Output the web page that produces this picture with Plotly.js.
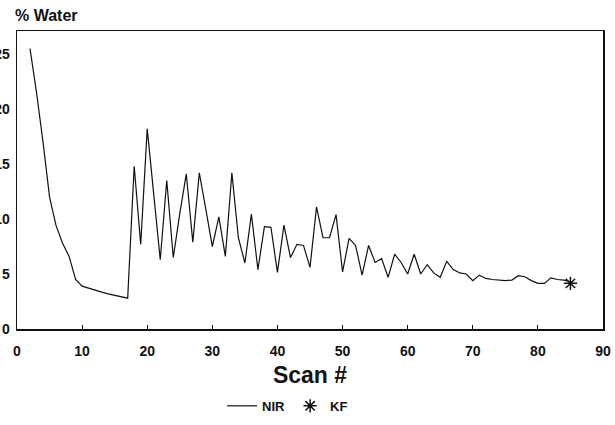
<!DOCTYPE html>
<html>
<head>
<meta charset="utf-8">
<script src="https://cdn.plot.ly/plotly-3.0.1.min.js"></script>
<style>html,body{margin:0;padding:0;background:#fff;}#chart{width:615px;height:425px;}</style>
</head>
<body>
<div id="chart"></div>
<script>
const scans = [2,3,4,5,6,7,8,9,10,11,12,13,14,15,16,17,18,19,20,21,22,23,24,25,26,27,28,29,30,31,32,33,34,35,36,37,38,39,40,41,42,43,44,45,46,47,48,49,50,51,52,53,54,55,56,57,58,59,60,61,62,63,64,65,66,67,68,69,70,71,72,73,74,75,76,77,78,79,80,81,82,83,84,85];
const nirWater = [25.5,21.5,17.0,12.0,9.4,7.8,6.6,4.5,3.9,3.7,3.5,3.35,3.2,3.05,2.95,2.8,14.8,7.7,18.2,12.0,6.3,13.5,6.5,10.5,14.1,7.9,14.2,10.9,7.5,10.2,6.6,14.2,8.3,6.0,10.45,5.4,9.3,9.25,5.15,9.45,6.5,7.7,7.6,5.6,11.1,8.3,8.3,10.4,5.2,8.25,7.6,4.9,7.6,6.05,6.4,4.7,6.8,6.05,5.0,6.8,5.0,5.85,5.1,4.7,6.15,5.4,5.1,5.0,4.4,4.9,4.6,4.5,4.45,4.4,4.45,4.85,4.75,4.4,4.15,4.15,4.65,4.5,4.45,4.3];
const kfScan = [85];
const kfWater = [4.15];
const xTicks = [0,10,20,30,40,50,60,70,80,90];
const yTicks = [0,5,10,15,20,25];

const fnt = "Liberation Sans, Arial, Helvetica, sans-serif";
const data = [
  {x: scans, y: nirWater, type: 'scatter', mode: 'lines', name: 'NIR',
   line: {color: '#111', width: 1.2}},
  {x: kfScan, y: kfWater, type: 'scatter', mode: 'markers', name: 'KF',
   marker: {symbol: 'asterisk-open', size: 11, color: '#111', line: {color: '#111', width: 1.5}}}
];
const layout = {
  width: 615, height: 425,
  margin: {l: 17, r: 12, t: 31, b: 96},
  paper_bgcolor: '#fff', plot_bgcolor: '#fff',
  showlegend: true,
  legend: {orientation: 'h', x: 0.35, xanchor: 'left', yref: 'container', y: 0.045, yanchor: 'middle',
           font: {family: fnt, size: 13, color: '#111', weight: 'bold'}, itemwidth: 30, tracegroupgap: 0},
  xaxis: {range: [0, 90], tickvals: xTicks, ticktext: xTicks.map(String), automargin: false,
          showgrid: false, zeroline: false, showline: true, mirror: true, linecolor: '#111', linewidth: 1.5,
          ticks: 'inside', ticklen: 4, tickcolor: '#111', ticklabelstandoff: 9,
          tickfont: {family: fnt, size: 14, color: '#111', weight: 'bold'},
          title: {text: 'Scan #', font: {family: fnt, size: 23, color: '#111', weight: 'bold'}, standoff: 8}},
  yaxis: {range: [0, 27.1], tickvals: yTicks, ticktext: yTicks.map(String),
          showgrid: false, zeroline: false, showline: true, mirror: true, linecolor: '#111', linewidth: 1.5,
          ticks: '', automargin: false, ticklabelstandoff: 3,
          tickfont: {family: fnt, size: 14, color: '#111', weight: 'bold'}},
  annotations: [{text: '% Water', xref: 'paper', yref: 'paper', x: -0.007, y: 1.0, yshift: 16,
                 xanchor: 'left', yanchor: 'middle', showarrow: false,
                 font: {family: fnt, size: 16, color: '#111', weight: 'bold'}}]
};
Plotly.newPlot('chart', data, layout, {displayModeBar: false, staticPlot: true});
</script>
</body>
</html>
